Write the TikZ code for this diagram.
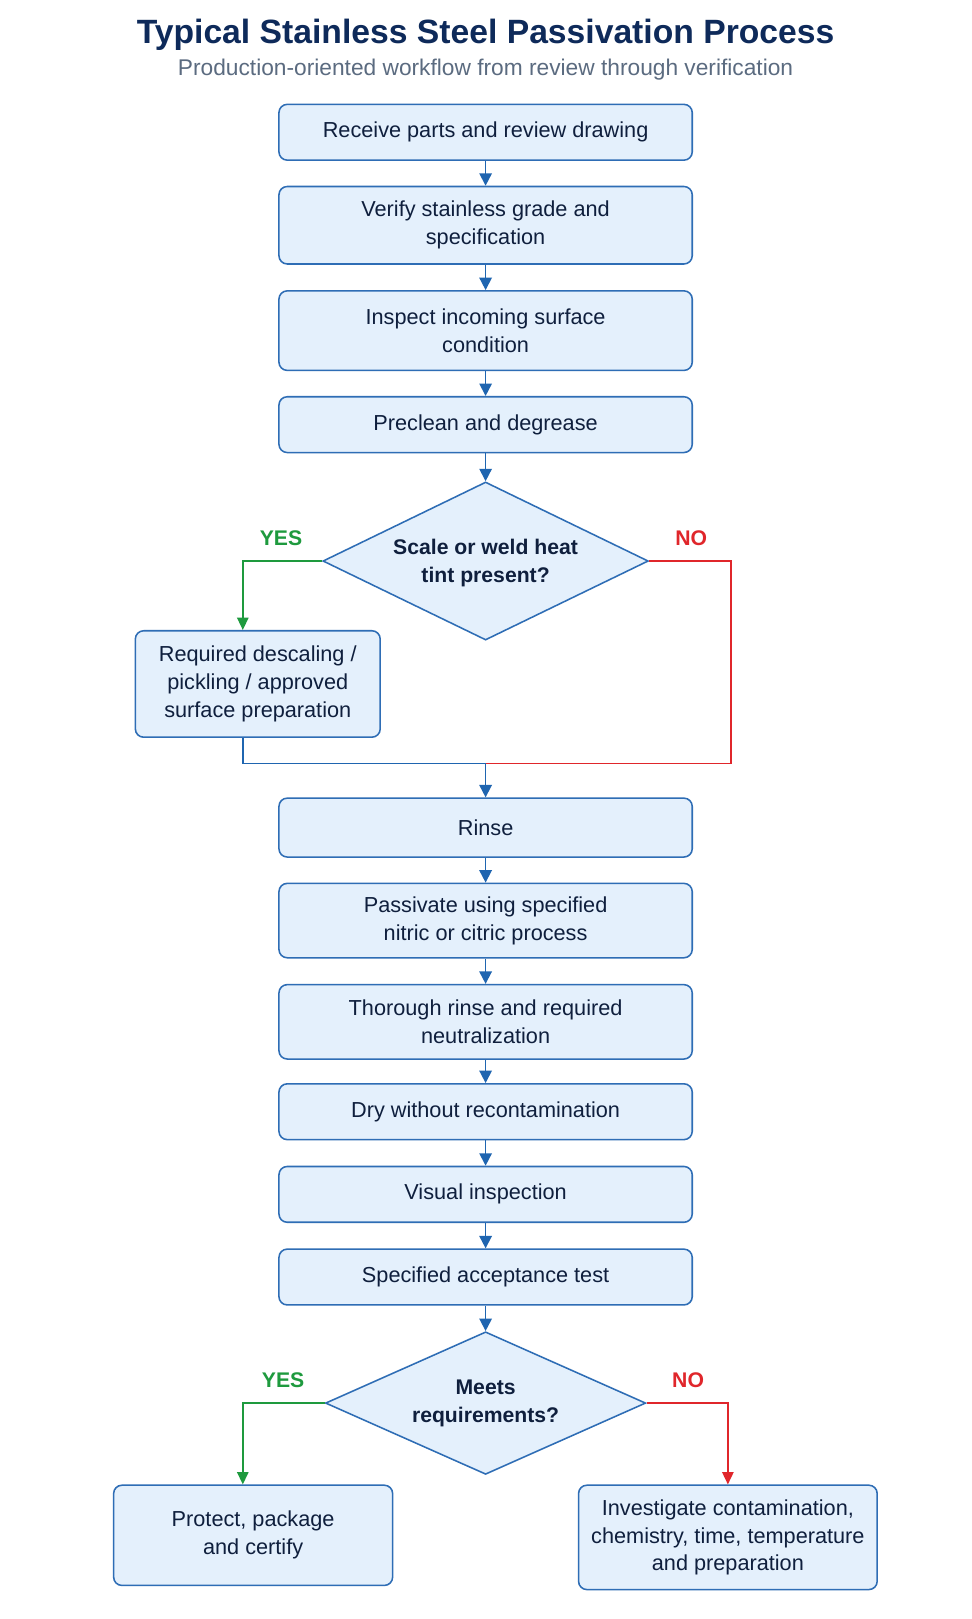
\documentclass[tikz,border=0pt]{standalone}
\usepackage{fontspec}
\setmainfont{Liberation Sans}
\usetikzlibrary{shapes.geometric,arrows.meta}
\definecolor{ink}{HTML}{0F1F3D}
\definecolor{titleblue}{HTML}{0E2A5A}
\definecolor{subgray}{HTML}{5B6B80}
\definecolor{boxfill}{HTML}{E4F0FC}
\definecolor{boxline}{HTML}{2E6DB5}
\definecolor{flowblue}{HTML}{1F65B0}
\definecolor{yesgreen}{HTML}{1E9A3E}
\definecolor{nored}{HTML}{E0262B}

\begin{document}
\begin{tikzpicture}[x=1pt,y=-1pt,
        stepbox/.style={draw=boxline,line width=1.5pt,fill=boxfill,rounded corners=8pt,
            minimum width=400pt,minimum height=54pt,inner sep=0pt,align=center,text=ink,
            font=\fontsize{21}{27}\selectfont},
        tallbox/.style={stepbox,minimum height=74pt},
        decision/.style={diamond,draw=boxline,line width=1.5pt,fill=boxfill,inner sep=0pt,
            align=center,text=ink,font=\bfseries\fontsize{20.5}{27}\selectfont},
        flow/.style={draw=flowblue,line width=1.7pt},
        arr/.style={flow,-{Triangle[length=12pt,width=12pt]}},
        yesline/.style={draw=yesgreen,line width=1.6pt,-{Triangle[length=12pt,width=11pt]}},
        noline/.style={draw=nored,line width=1.6pt,-{Triangle[length=12pt,width=11pt]}},
        yeslab/.style={text=yesgreen,font=\bfseries\fontsize{20.5}{24}\selectfont},
        nolab/.style={text=nored,font=\bfseries\fontsize{20.5}{24}\selectfont}]
            \useasboundingbox[fill=white] (0,0) rectangle (940,1567);
            \node[anchor=base,text=titleblue,font=\bfseries\fontsize{32.6}{38}\selectfont] (title) at (470,42) {Typical Stainless Steel Passivation Process};
            \node[anchor=base,text=subgray,font=\fontsize{22}{26}\selectfont] (subtitle) at (470,73) {Production-oriented workflow from review through verification};
            % main column
            \node[stepbox] (receive) at (470,128) {Receive parts and review drawing};
            \node[tallbox,minimum height=75pt] (verify) at (470,218) {Verify stainless grade and\\specification};
            \node[tallbox,minimum height=77pt] (inspect) at (470,320) {Inspect incoming surface\\condition};
            \node[stepbox] (preclean) at (470,411) {Preclean and degrease};
            \node[decision,aspect=2.06,minimum width=315pt,minimum height=153pt] (scale) at (470,543) {\\[-8pt]Scale or weld heat\\tint present?};
            \node[stepbox,minimum width=237pt,minimum height=103pt] (descale) at (249.5,662) {Required descaling /\\pickling / approved\\surface preparation};
            \coordinate (join) at (470,739);
            \node[stepbox,minimum height=57pt] (rinse) at (470,801) {Rinse};
            \node[tallbox,minimum height=72pt] (passivate) at (470,891) {Passivate using specified\\nitric or citric process};
            \node[tallbox,minimum height=72pt] (thorough) at (470,989) {Thorough rinse and required\\neutralization};
            \node[stepbox] (dry) at (470,1076) {Dry without recontamination};
            \node[stepbox] (visual) at (470,1156) {Visual inspection};
            \node[stepbox] (accept) at (470,1236) {Specified acceptance test};
            \node[decision,aspect=2.25,minimum width=310pt,minimum height=138pt] (meets) at (470,1358) {Meets\\requirements?};
            \node[stepbox,minimum width=270pt,minimum height=97pt] (protect) at (245,1486) {Protect, package\\and certify};
            \node[stepbox,minimum width=289pt,minimum height=101pt] (investigate) at (704.5,1488) {Investigate contamination,\\chemistry, time, temperature\\and preparation};
            % connectors
            \draw[arr] (receive) -- (verify);
            \draw[arr] (verify) -- (inspect);
            \draw[arr] (inspect) -- (preclean);
            \draw[arr] (preclean) -- (scale);
            \draw[yesline] (scale.west) -| ([xshift=-14.5pt]descale.north);
            \node[yeslab] (yes1) at (272,521) {YES};
            \draw[flow] ([xshift=-14.5pt]descale.south) |- (join);
            \draw[draw=nored,line width=1.6pt] (scale.east) -- ++(79,0) |- (join);
            \node[nolab] (no1) at (669,521) {NO};
            \draw[arr] (join) -- (rinse);
            \draw[arr] (rinse) -- (passivate);
            \draw[arr] (passivate) -- (thorough);
            \draw[arr] (thorough) -- (dry);
            \draw[arr] (dry) -- (visual);
            \draw[arr] (visual) -- (accept);
            \draw[arr] (accept) -- (meets);
            \draw[yesline] (meets.west) -| ([xshift=-10pt]protect.north);
            \node[yeslab] (yes2) at (274,1336) {YES};
            \draw[noline] (meets.east) -| (investigate.north);
            \node[nolab] (no2) at (666,1336) {NO};
        \end{tikzpicture}
\end{document}
